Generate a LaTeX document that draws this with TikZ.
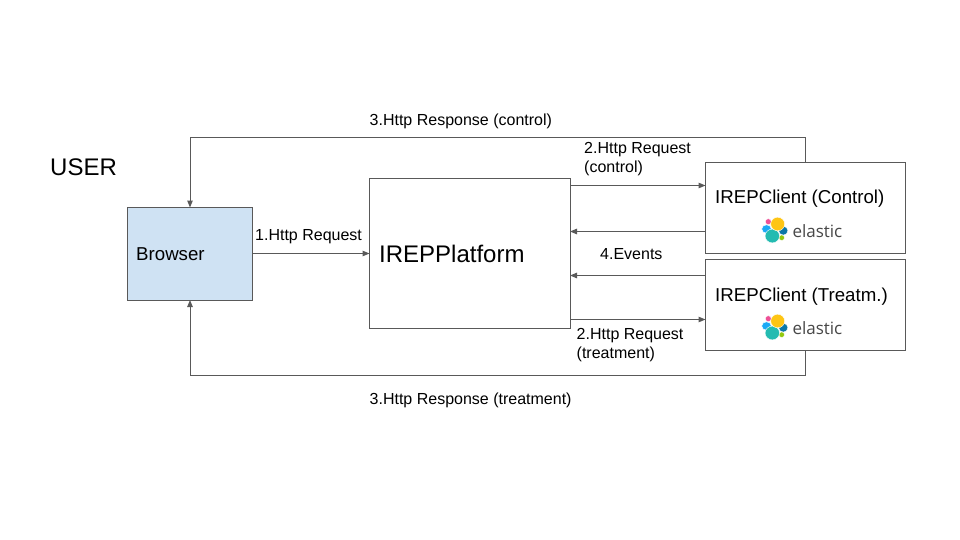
\documentclass[tikz,border=0pt]{standalone}
\usepackage{fontspec}
\setmainfont{Liberation Sans}
\newfontfamily\logofont{Open Sans}
\usetikzlibrary{arrows.meta}
\definecolor{ln}{HTML}{595959}
\definecolor{boxblue}{HTML}{CFE2F3}
\definecolor{elpink}{HTML}{EE5097}
\definecolor{elblue}{HTML}{1BA9F5}
\definecolor{elnavy}{HTML}{0B77A8}
\definecolor{elgreen}{HTML}{93C90E}
\definecolor{elteal}{HTML}{24BBB1}
\definecolor{elyellow}{HTML}{FEC514}
\tikzset{
  box/.style={draw=ln,line width=1pt,fill=white,inner sep=0pt,outer sep=0pt,anchor=north west},
  conn/.style={draw=ln,line width=1pt,-{Triangle[length=7pt,width=5.5pt,fill=ln]}},
  lbl/.style={anchor=base west,inner sep=0pt,font=\fontsize{16}{19}\selectfont,text=black},
  big/.style={anchor=base west,inner sep=0pt,font=\fontsize{24}{28}\selectfont,text=black},
  mid/.style={anchor=base west,inner sep=0pt,font=\fontsize{18.67}{22}\selectfont,text=black},
  logotext/.style={anchor=base west,inner sep=0pt,font=\logofont\fontsize{17}{20}\selectfont,text=black!72},
  blob/.style={draw=white,line width=0.4pt}
}
\newcommand{\elasticlogo}[2]{%
  \begin{scope}[shift={(#1,#2)}]
    \fill[elpink,blob] (-5.2,-8.3) circle (3);
    \fill[elblue,blob] (-7,-1) ellipse (4.8 and 4.2);
    \fill[elnavy,blob] (9.8,0.7) ellipse (4.6 and 4.4);
    \fill[elgreen,blob] (8.2,7.7) circle (2.8);
    \fill[elteal,blob] (-1.2,6) ellipse (7.2 and 6.9);
    \fill[elyellow,blob] (4.2,-6) ellipse (7 and 6.8);
    \node[logotext] at (18.8,7.3) {elastic};
  \end{scope}}
\begin{document}
\begin{tikzpicture}[x=1pt,y=-1pt]
\useasboundingbox (0,0) rectangle (960,540);
\fill[white] (0,0) rectangle (960,540);

\node[box,fill=boxblue,minimum width=125pt,minimum height=92.5pt] (browser) at (127.5,207.5) {};
\node[box,minimum width=200.5pt,minimum height=150pt] (platform) at (369.5,178.5) {};
\node[box,minimum width=200pt,minimum height=90.5pt] (control) at (705.5,162.5) {};
\node[box,minimum width=200pt,minimum height=91pt] (treat) at (705.5,259.5) {};

\coordinate (topy) at (0,137.5);
\coordinate (boty) at (0,375.5);
\coordinate (c1) at (570,185.5);
\coordinate (c2) at (570,231.5);
\coordinate (c3) at (570,275.5);
\coordinate (c4) at (570,319.5);

\draw[conn] (control.north) -- (control.north |- topy) -- (browser.north |- topy) -- (browser.north);
\draw[conn] (treat.south) -- (treat.south |- boty) -- (browser.south |- boty) -- (browser.south);
\draw[conn] (browser.east |- 0,253.5) -- (platform.west |- 0,253.5);
\draw[conn] (c1) -- (control.west |- c1);
\draw[conn] (control.west |- c2) -- (c2);
\draw[conn] (treat.west |- c3) -- (c3);
\draw[conn] (c4) -- (treat.west |- c4);

\node[big] (user) at (50,175.5) {USER};
\node[big] (ptext) at (379,262.5) {IREPPlatform};
\node[mid] (btext) at (136,260.5) {Browser};
\node[mid] (ctext) at (715,204) {IREPClient (Control)};
\node[mid] (ttext) at (715,301) {IREPClient (Treatm.)};

\node[lbl] (l1) at (255,240.6) {1.Http Request};
\node[lbl] (l2) at (369.5,125.6) {3.Http Response (control)};
\node[lbl] (l3) at (584,153.2) {2.Http Request};
\node[lbl] (l4) at (584,172.2) {(control)};
\node[lbl] (l5) at (600,259.2) {4.Events};
\node[lbl] (l6) at (576.5,339.2) {2.Http Request};
\node[lbl] (l7) at (576.5,358.2) {(treatment)};
\node[lbl] (l8) at (369.5,404.2) {3.Http Response (treatment)};

\elasticlogo{773.5}{230}
\elasticlogo{773.5}{327}
\end{tikzpicture}
\end{document}
